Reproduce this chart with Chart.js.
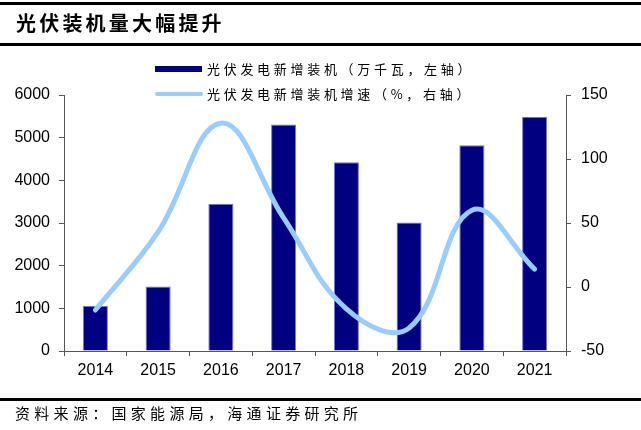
<!DOCTYPE html>
<html>
<head>
<meta charset="utf-8">
<script src="https://cdn.jsdelivr.net/npm/chart.js@4.4.0/dist/chart.umd.min.js"></script>
<style>
  html, body { margin: 0; padding: 0; background: #fff; }
  #wrap { position: relative; width: 641px; height: 430px; overflow: hidden; font-family: "Noto Sans CJK SC", sans-serif; color: #000; }
  #c { position: absolute; left: 0; top: 0; }
  .rule { position: absolute; left: 0; width: 641px; height: 3px; background: #000; }
  #title { position: absolute; left: 16px; top: 9px; font-size: 20px; line-height: 28px; font-weight: bold; letter-spacing: 3.2px; white-space: nowrap; }
  .leg { position: absolute; left: 155px; height: 20px; white-space: nowrap; }
  .leg .sw { position: absolute; left: 0; }
  .leg span { position: absolute; left: 52px; top: 0; font-size: 13px; line-height: 20px; letter-spacing: 3.7px; }
  #source { position: absolute; left: 15px; top: 402px; font-size: 15px; line-height: 22px; letter-spacing: 4.3px; white-space: nowrap; }
</style>
</head>
<body>
<div id="wrap">
  <canvas id="c" width="641" height="430"></canvas>
  <div class="rule" style="top:2px"></div>
  <div id="title">光伏装机量大幅提升</div>
  <div class="rule" style="top:43px"></div>
  <div class="leg" style="top:59px">
    <div class="sw" style="top:7px;width:47px;height:6px;background:#000080"></div>
    <span>光伏发电新增装机（万千瓦，左轴）</span>
  </div>
  <div class="leg" style="top:84px">
    <div class="sw" style="top:8px;width:48px;height:4px;border-radius:2px;background:#99ccff"></div>
    <span>光伏发电新增装机增速（%，右轴）</span>
  </div>
  <div class="rule" style="top:398px"></div>
  <div id="source">资料来源：国家能源局，海通证券研究所</div>
</div>
<script>
// categories and series
const years = ['2014', '2015', '2016', '2017', '2018', '2019', '2020', '2021'];
const newCapacity = [1060, 1513, 3454, 5306, 4426, 3011, 4820, 5488]; // 万千瓦
const growthRate = [-18, 43, 128, 54, -17, -32, 60, 14]; // %

const tickFont = { family: 'Liberation Sans', size: 16 };
const axisColor = '#555';
const plain = (v) => String(v);

new Chart(document.getElementById('c'), {
  type: 'bar',
  data: {
    labels: years,
    datasets: [{
      type: 'line',
      label: '光伏发电新增装机增速（%，右轴）',
      data: growthRate,
      yAxisID: 'y1',
      borderColor: '#99ccff',
      borderWidth: 5,
      borderCapStyle: 'round',
      borderJoinStyle: 'round',
      tension: 0.4,
      pointRadius: 0,
      order: 0,
    }, {
      label: '光伏发电新增装机（万千瓦，左轴）',
      data: newCapacity,
      yAxisID: 'y',
      backgroundColor: '#000080',
      borderColor: '#7a7ad0',
      borderWidth: 1,
      barPercentage: 0.4,
      categoryPercentage: 1,
      order: 1,
    }],
  },
  options: {
    responsive: false,
    animation: false,
    layout: { padding: { top: 95, bottom: 49, left: 0, right: 0 } },
    plugins: { legend: { display: false }, tooltip: { enabled: false } },
    scales: {
      x: {
        grid: { drawOnChartArea: false, tickLength: 5, color: axisColor, offset: true },
        border: { color: axisColor },
        ticks: { font: tickFont, color: '#000', padding: 5 },
        afterFit: (s) => { s.height = 30; },
      },
      y: {
        position: 'left',
        min: 0,
        max: 6000,
        grid: { drawOnChartArea: false, tickLength: 5, color: axisColor },
        border: { color: axisColor },
        ticks: { stepSize: 1000, font: tickFont, color: '#000', padding: 9, callback: plain },
        afterFit: (s) => { s.width = 64; },
      },
      y1: {
        position: 'right',
        min: -50,
        max: 150,
        grid: { drawOnChartArea: false, tickLength: 5, color: axisColor },
        border: { color: axisColor },
        ticks: { stepSize: 50, font: tickFont, color: '#000', padding: 10, callback: plain },
        afterFit: (s) => { s.width = 75; },
      },
    },
  },
});
</script>
</body>
</html>
